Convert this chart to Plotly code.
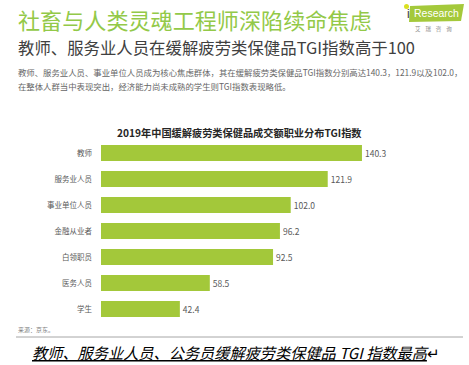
import plotly.graph_objects as go

categories = ["教师", "服务业人员", "事业单位人员", "金融从业者", "白领职员", "医务人员", "学生"]
tgi_values = [140.3, 121.9, 102.0, 96.2, 92.5, 58.5, 42.4]
value_labels = ["140.3", "121.9", "102.0", "96.2", "92.5", "58.5", "42.4"]

main_title = "社畜与人类灵魂工程师深陷续命焦虑"
sub_title = "教师、服务业人员在缓解疲劳类保健品TGI指数高于100"
body_line1 = "教师、服务业人员、事业单位人员成为核心焦虑群体，其在缓解疲劳类保健品TGI指数分别高达140.3，121.9以及102.0，"
body_line2 = "在整体人群当中表现突出，经济能力尚未成熟的学生则TGI指数表现略低。"
chart_title = "2019年中国缓解疲劳类保健品成交额职业分布TGI指数"
source_text = "来源：京东。"
caption_text = "教师、服务业人员、公务员缓解疲劳类保健品 TGI 指数最高"

W, H = 469, 365
# plot area in page pixels
PL, PR, PT, PB = 101, 399, 140, 322
L = PL
T = PT
PW = PR - PL
PH = PB - PT
R = W - L - PW
B = H - T - PH

def px(x):
    return (x - PL) / PW

def py(y):
    return (PB - y) / PH

FONT = "Noto Sans CJK SC"
BAR = "#a3c83a"
GREEN = "#93c948"

fig = go.Figure(go.Bar(
    x=tgi_values, y=categories, orientation="h",
    marker=dict(color=BAR, line=dict(width=0)),
    text=value_labels, textposition="outside",
    textfont=dict(family=FONT, size=8.5, color="#595959"),
    cliponaxis=False, hoverinfo="skip",
))

ann = []
def add(text, x, y, size, color, xanchor="left", family=FONT, **kw):
    ann.append(dict(text=text, x=px(x), y=py(y), xref="paper", yref="paper",
                    xanchor=xanchor, yanchor="middle", showarrow=False,
                    font=dict(family=family, size=size, color=color), **kw))

add(main_title, 16, 19, 22.1, GREEN)
add(sub_title, 16, 47, 16.4, "#404040")
add(body_line1, 16, 72, 8.4, "#666666")
add(body_line2, 16, 86, 8.4, "#666666")
add("<b>" + chart_title + "</b>", 239.5, 132, 10.2, "#262626", xanchor="center")
add(source_text, 16, 329, 6, "#7f7f7f")
add("<i><u>" + caption_text + "</u></i>↵", 30, 352, 15.2, "#000000")
# logo
add("Research", 436, 13, 10.5, "#ffffff", xanchor="center", family="Arial")
add("i", 405, 14, 12, "#3a3a3a", family="Arial")
add("艾    瑞    咨    询", 433, 29, 5.5, "#8c8c8c", xanchor="center")

shapes = [
    dict(type="line", xref="paper", yref="paper", x0=px(16), x1=px(463), y0=py(337), y1=py(337),
         line=dict(color="#a6a6a6", width=1)),
    dict(type="path", xref="paper", yref="paper",
         path=f"M {px(409)},{py(22)} L {px(461)},{py(21)} L {px(464)},{py(4)} L {px(410)},{py(6)} Z",
         fillcolor="#a4c93b", line=dict(width=0), layer="below"),
    dict(type="circle", xref="paper", yref="paper", x0=px(404), x1=px(409), y0=py(9), y1=py(4),
         fillcolor="#d9e021", line=dict(width=0)),
]

fig.update_layout(
    width=W, height=H, margin=dict(l=L, r=R, t=T, b=B),
    paper_bgcolor="#ffffff", plot_bgcolor="#ffffff",
    showlegend=False, bargap=0.385,
    xaxis=dict(range=[0, PW / 1.86], visible=False, fixedrange=True),
    yaxis=dict(autorange="reversed", showgrid=False, zeroline=False, showline=False,
               ticks="", ticklabelstandoff=8,
               tickfont=dict(family=FONT, size=7.5, color="#595959")),
    annotations=ann, shapes=shapes,
    font=dict(family=FONT),
)

fig.write_html("out.html", config={"displayModeBar": False},
               post_script="document.body.style.margin='0';")
